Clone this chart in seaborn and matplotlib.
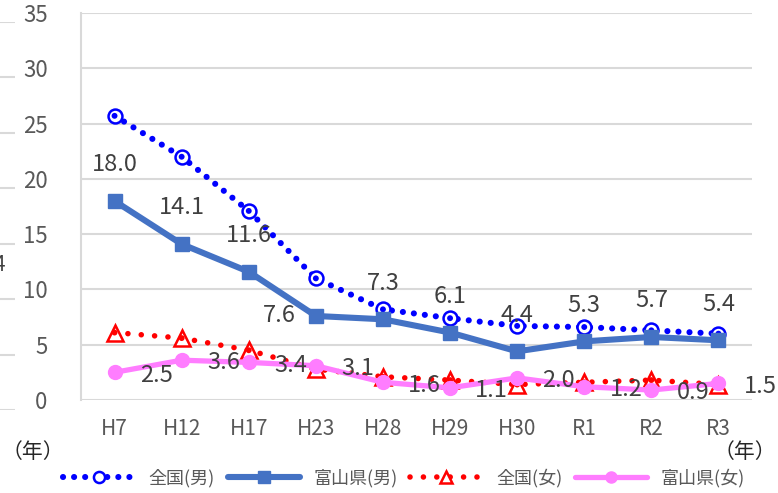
import matplotlib
matplotlib.use("Agg")
import matplotlib.pyplot as plt
import seaborn as sns
import pandas as pd
from matplotlib.lines import Line2D

# ---- data ----
years = ["H7", "H12", "H17", "H23", "H28", "H29", "H30", "R1", "R2", "R3"]
national_male = [25.7, 22.0, 17.1, 11.0, 8.2, 7.4, 6.7, 6.6, 6.3, 6.0]
toyama_male = [18.0, 14.1, 11.6, 7.6, 7.3, 6.1, 4.4, 5.3, 5.7, 5.4]
national_female = [6.1, 5.6, 4.5, 2.8, 2.1, 1.8, 1.4, 1.6, 1.8, 1.4]
toyama_female = [2.5, 3.6, 3.4, 3.1, 1.6, 1.1, 2.0, 1.2, 0.9, 1.5]
series_names = ["全国(男)", "富山県(男)", "全国(女)", "富山県(女)"]
yticks = [0, 5, 10, 15, 20, 25, 30, 35]
unit_label = "（年）"

sns.set_theme(style="white")
FAM = ["Noto Sans CJK JP", "DejaVu Sans"]
plt.rcParams["font.family"] = FAM

df = pd.DataFrame({"year": years,
                   series_names[0]: national_male,
                   series_names[1]: toyama_male,
                   series_names[2]: national_female,
                   series_names[3]: toyama_female})

W, H = 778, 493
fig = plt.figure(figsize=(W / 100, H / 100), dpi=100)
ax = fig.add_axes([81 / W, 1 - 400 / H, (752 - 81) / W, (400 - 13) / H])

GRID = "#d9d9d9"
TXT = "#404040"
TICK = "#595959"

BLUE = "#0000FF"
DBLUE = "#4472C4"
RED = "#FF0000"
PINK = "#FF7DFF"

styles = {
    series_names[0]: dict(color=BLUE, lw=4.4, dashes=(0.01, 1.8), marker="o", ms=10,
                          mfc="white", mec=BLUE, mew=1.8),
    series_names[1]: dict(color=DBLUE, lw=4.4, dashes=None, marker="s", ms=10,
                          mfc=DBLUE, mec=DBLUE, mew=1),
    series_names[2]: dict(color=RED, lw=4.0, dashes=(0.01, 2.4), marker="^", ms=11,
                          mfc="white", mec=RED, mew=1.8),
    series_names[3]: dict(color=PINK, lw=3.8, dashes=None, marker="o", ms=10,
                          mfc=PINK, mec=PINK, mew=1),
}

handles = []
for z, name in enumerate(series_names):
    st = styles[name]
    sns.lineplot(data=df, x="year", y=name, ax=ax, sort=False, color=st["color"],
                 linewidth=st["lw"], zorder=3 + z, legend=False)
    ln = ax.lines[-1]
    if st["dashes"] is not None:
        ln.set_dashes(st["dashes"])
        ln.set_dash_capstyle("round")
    ln.set_marker(st["marker"])
    ln.set_markersize(st["ms"])
    ln.set_markerfacecolor(st["mfc"])
    ln.set_markeredgecolor(st["mec"])
    ln.set_markeredgewidth(st["mew"])
    if st["mfc"] == "white":
        # inner dot of the hollow markers
        sns.scatterplot(data=df, x="year", y=name, ax=ax, color=st["color"], s=18,
                        edgecolor="none", zorder=3.5 + z, legend=False)
    h = Line2D([0], [0], color=st["color"], lw=st["lw"], marker=st["marker"],
               ms=st["ms"] * 0.8, mfc=st["mfc"], mec=st["mec"], mew=st["mew"])
    if st["dashes"] is not None:
        h.set_dashes(st["dashes"])
        h.set_dash_capstyle("round")
    handles.append(h)

# data labels
for i, v in enumerate(toyama_male):
    off = (-26, 0) if i == 3 else (0, 26)
    ax.annotate(f"{v:.1f}", xy=(i, v), xytext=off, textcoords="offset points",
                ha="center", va="center", fontsize=17, color=TXT, zorder=10)
for i, v in enumerate(toyama_female):
    ax.annotate(f"{v:.1f}", xy=(i, v), xytext=(30, -2), textcoords="offset points",
                ha="center", va="center", fontsize=17, color=TXT, zorder=10)

ax.set_xlim(-0.5, len(years) - 0.5)
ax.set_ylim(0, 35)
ax.set_yticks(yticks)
ax.set_xticks(range(len(years)))
ax.set_xticklabels(years)
ax.set_xlabel("")
ax.set_ylabel("")
ax.grid(axis="y", color=GRID, lw=1.5, zorder=0)
ax.set_axisbelow(True)
for s in ["top", "right", "bottom"]:
    ax.spines[s].set_visible(False)
ax.spines["left"].set_color(GRID)
ax.spines["left"].set_linewidth(1.5)
ax.tick_params(axis="y", length=0, pad=24, labelsize=16, labelcolor=TICK)
ax.tick_params(axis="x", length=0, pad=13, labelsize=15, labelcolor=TICK)

fig.text(2 / W, 1 - 452 / H, unit_label, ha="left", va="center", fontsize=15,
         color="#262626")
fig.text(776 / W, 1 - 452 / H, unit_label, ha="right", va="center", fontsize=15,
         color="#262626")

fig.legend(handles=handles, labels=series_names, loc="center",
           bbox_to_anchor=(404 / W, 1 - 478 / H), ncol=4, frameon=False,
           fontsize=13, handlelength=4.0, handletextpad=0.75, columnspacing=0.7,
           labelcolor=TICK)

# cropped neighbouring chart on the left edge
axl = fig.add_axes([0, 1 - 410 / H, 15 / W, (410 - 22) / H])
axl.set_xlim(0, 1)
axl.set_ylim(0, 7)
axl.set_yticks(range(8))
axl.set_xticks([])
axl.grid(axis="y", color=GRID, lw=1.5)
axl.tick_params(length=0, labelleft=False)
for s in axl.spines.values():
    s.set_visible(False)
axl.patch.set_alpha(0)
fig.text(-6 / W, 1 - 265 / H, "4", ha="left", va="center", fontsize=15, color=TXT)
fig.text(-6 / W, 1 - 485 / H, "）", ha="left", va="center", fontsize=9, color=TICK)

fig.savefig("out.png", dpi=100)
